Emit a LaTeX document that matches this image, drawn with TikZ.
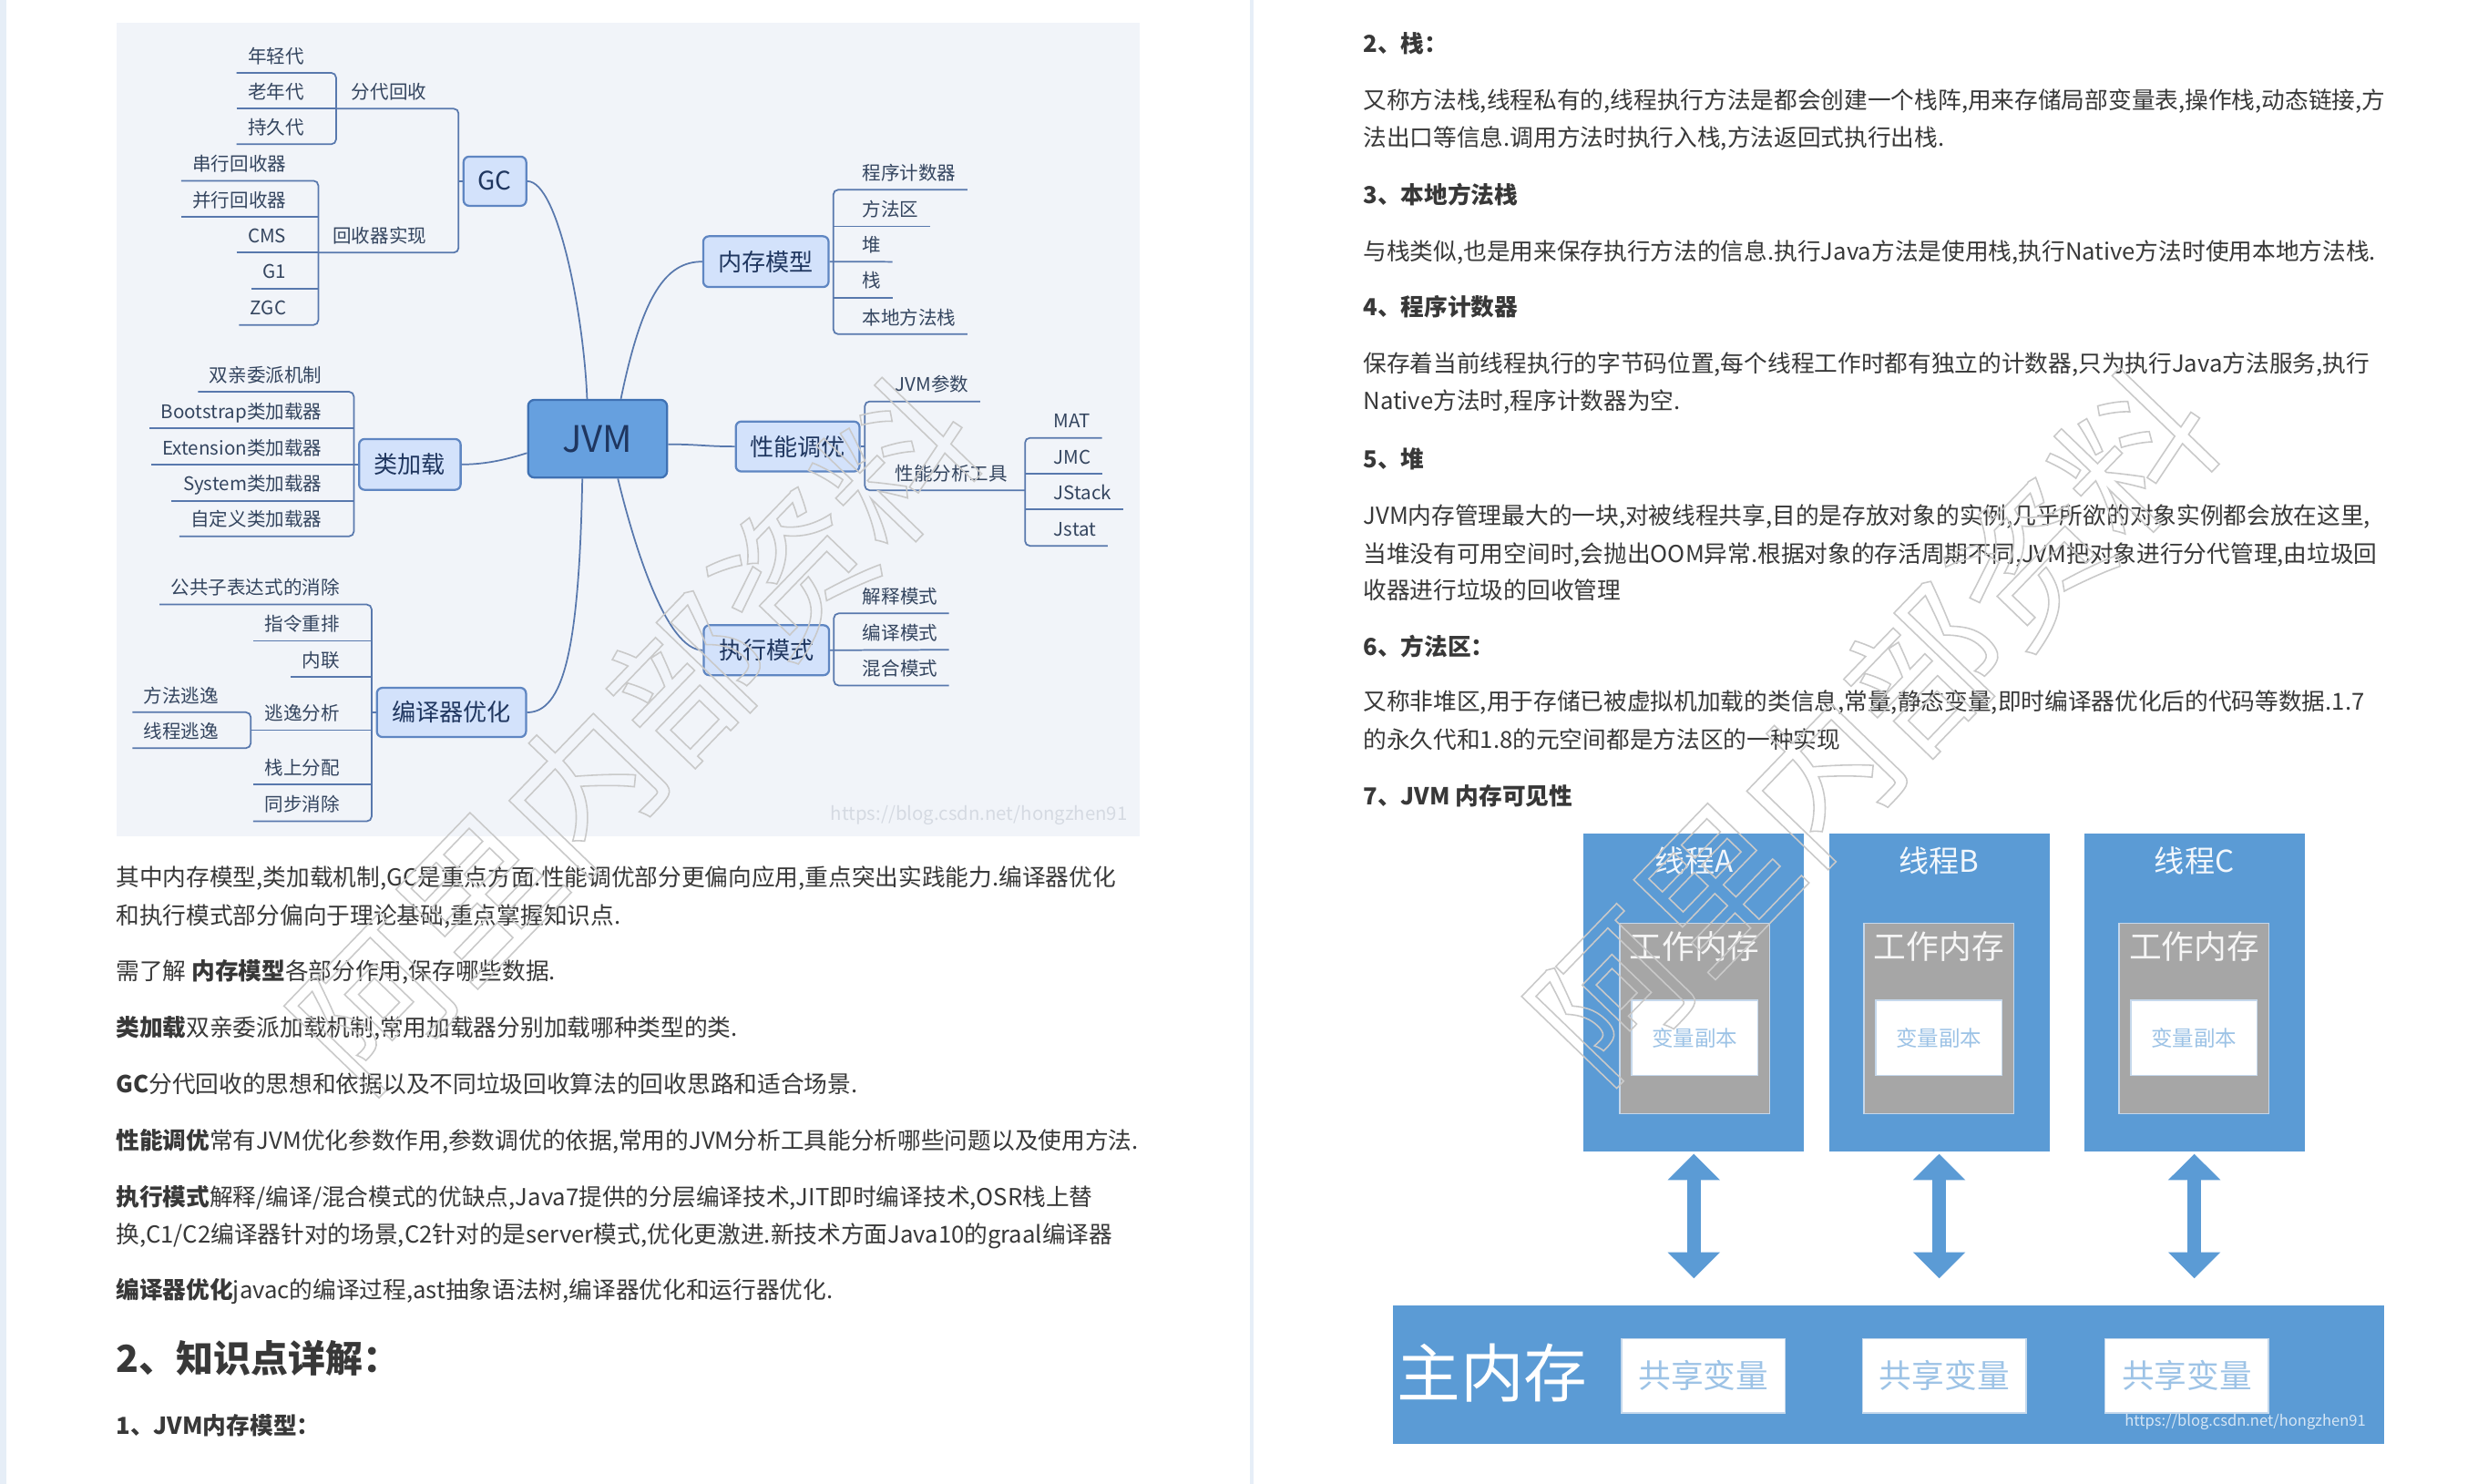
\documentclass[tikz,border=0pt]{standalone}
\usepackage{fontspec}
\setmainfont{Noto Sans CJK SC}
\IfFontExistsTF{FandolSong-Regular.otf}{\newfontfamily\songf{FandolSong-Regular.otf}}{\newfontfamily\songf{Noto Sans CJK SC}}
\IfFontExistsTF{FandolKai-Regular.otf}{\newfontfamily\kaif{FandolKai-Regular.otf}}{\newfontfamily\kaif{Noto Sans CJK SC}}
\usetikzlibrary{arrows.meta,calc}
\definecolor{mmbg}{HTML}{F1F4F9}
\definecolor{mline}{HTML}{5878AD}
\definecolor{tfill}{HTML}{D3E2FB}
\definecolor{tborder}{HTML}{5F86C2}
\definecolor{ttext}{HTML}{1F365F}
\definecolor{jfill}{HTML}{66A0DF}
\definecolor{jborder}{HTML}{3F71B3}
\definecolor{leafc}{HTML}{34455F}
\definecolor{bodyc}{HTML}{383838}
\definecolor{stripc}{HTML}{E6EEF7}
\definecolor{tblue}{HTML}{5B9BD5}
\definecolor{wgray}{HTML}{A6A6A6}
\definecolor{lblue}{HTML}{9DC3E6}
\definecolor{boxedge}{HTML}{C5D8EC}
\definecolor{wmc}{HTML}{C9C9C9}
\definecolor{urlc}{HTML}{D5DAE2}
\newcommand\fs[1]{\fontsize{#1}{#1}\selectfont}
\newcommand\outl[1]{\special{pdf:literal direct 1 Tr 0.9 w}#1\special{pdf:literal direct 0 Tr}}
\tikzset{
  mm/.style={draw=mline, line width=1pt},
  leaf/.style={font=\fs{11.8}, text=leafc, inner xsep=7pt, inner ysep=0pt, minimum height=21pt, text height=10.4pt, text depth=1.4pt},
  topic/.style={draw=tborder, fill=tfill, line width=1.3pt, rounded corners=3.5pt, text=ttext, font=\fs{15}, inner sep=0pt, text height=13.2pt, text depth=1.8pt},
  jvmbox/.style={draw=jborder, fill=jfill, line width=1.3pt, rounded corners=4pt, text=ttext, font=\fs{23}, inner sep=0pt},
  body/.style={font=\fs{14.75}, text=bodyc, inner sep=0pt, anchor=west, text height=13pt, text depth=1.8pt},
  bhead/.style={body, font=\bfseries\fs{14.75}},
  thread/.style={fill=tblue, inner sep=0pt, minimum width=139pt, minimum height=200pt},
  ttitle/.style={font=\fs{19}, text=white!92!tblue, inner sep=0pt},
  wmem/.style={fill=wgray, draw=boxedge, line width=0.8pt, inner sep=0pt, minimum width=94.5pt, minimum height=119.7pt},
  wmtitle/.style={font=\songf\fs{20.5}, text=white!90!wgray, inner sep=0pt},
  copybox/.style={fill=white, draw=boxedge, line width=0.8pt, inner sep=0pt, minimum width=79.6pt, minimum height=47.4pt, font=\songf\fs{13.5}, text=lblue},
  sharebox/.style={fill=white, draw=boxedge, line width=0.8pt, inner sep=0pt, minimum width=103pt, minimum height=46.9pt, font=\songf\fs{20.5}, text=lblue},
  dblarrow/.style={draw=tblue, line width=8.3pt, {Triangle[length=16.5pt,width=32pt]}-{Triangle[length=16.5pt,width=32pt]}},
  wmark/.style={font=\kaif\fs{95}, text=wmc, inner sep=0pt, rotate=46}
}
\begin{document}
\begin{tikzpicture}[x=1pt,y=-1pt]
\fill[white] (0,0) rectangle (1568,935);
\useasboundingbox (0,0) rectangle (1568,935);
\fill[stripc] (0,0) rectangle (4.2,935);
\fill[stripc] (788,0) rectangle (790.2,935);
% mind map background
\fill[mmbg] (73.6,14.4) rectangle (718,527);

% ---------- central and topic nodes
\node[jvmbox, minimum width=87.6pt, minimum height=49pt] (JVM) at (376.6,276.5) {JVM};
\node[topic, minimum width=39.5pt, minimum height=31pt, font=\fs{16}] (GC) at (311.9,114.2) {GC};
\node[topic, minimum width=79pt, minimum height=32pt] (NC) at (482.7,164.9) {内存模型};
\node[topic, minimum width=78pt, minimum height=31.5pt] (XN) at (502.7,281.4) {性能调优};
\node[topic, minimum width=79pt, minimum height=31.5pt] (ZX) at (483,409.8) {执行模式};
\node[topic, minimum width=64pt, minimum height=32pt] (LJ) at (258.3,292.7) {类加载};
\node[topic, minimum width=94pt, minimum height=31pt] (BY) at (284.5,449) {编译器优化};

% ---------- main curves
\draw[mm] (GC.east) .. controls (352,114.2) and (368,200) .. ([xshift=-6.6pt]JVM.north);
\draw[mm] ([xshift=14.7pt]JVM.north) .. controls (405,185) and (420,164.9) .. (NC.west);
\draw[mm] ([yshift=-3.5pt]JVM.east) .. controls (440,280) and (445,281.4) .. (XN.west);
\draw[mm] ([yshift=-9pt]JVM.west) .. controls (318,290) and (305,292.7) .. (LJ.east);
\draw[mm] ([xshift=12.8pt]JVM.south) .. controls (400,345) and (420,409.8) .. (ZX.west);
\draw[mm] ([xshift=-9.6pt]JVM.south) .. controls (365,410) and (355,449) .. (BY.east);

% ---------- GC branch
\node[leaf, anchor=south east] (fd) at (276,68.5) {分代回收};
\node[leaf, anchor=south east] (hs) at (276,159.2) {回收器实现};
\draw[mm, rounded corners=3pt] (211.8,68.5) -- (289,68.5) -- (289,159.2) -- (200.6,159.2);
\draw[mm] (289,114.2) -- (GC.west);
\node[leaf, anchor=south east] (nq) at (198.8,45.9) {年轻代};
\node[leaf, anchor=south east] (ln) at (198.8,68.5) {老年代};
\node[leaf, anchor=south east] (cj) at (198.8,90.9) {持久代};
\draw[mm, rounded corners=3pt] (nq.south west) -- (211.8,45.9) -- (211.8,90.9) -- (cj.south west);
\draw[mm] (ln.south west) -- (211.8,68.5);
\node[leaf, anchor=south east] (cx) at (187.6,113.9) {串行回收器};
\node[leaf, anchor=south east] (bx) at (187.6,136.8) {并行回收器};
\node[leaf, anchor=south east] (cms) at (187.6,159.2) {CMS};
\node[leaf, anchor=south east] (g1) at (187.6,181.8) {G1};
\node[leaf, anchor=south east] (zgc) at (187.6,204.8) {ZGC};
\draw[mm, rounded corners=3pt] (cx.south west) -- (200.6,113.9) -- (200.6,204.8) -- (zgc.south west);
\draw[mm] (bx.south west) -- (200.6,136.8);
\draw[mm] (cms.south west) -- (200.6,159.2);
\draw[mm] (g1.south west) -- (200.6,181.8);

% ---------- class loading branch
\node[leaf, anchor=south east] (sq) at (210,246.9) {双亲委派机制};
\node[leaf, anchor=south east] (bs) at (210,270) {Bootstrap类加载器};
\node[leaf, anchor=south east] (ex) at (210,292.7) {Extension类加载器};
\node[leaf, anchor=south east] (sy) at (210,315.6) {System类加载器};
\node[leaf, anchor=south east] (zd) at (210,338) {自定义类加载器};
\draw[mm, rounded corners=3pt] (sq.south west) -- (223,246.9) -- (223,338) -- (zd.south west);
\draw[mm] (bs.south west) -- (223,270);
\draw[mm] (ex.south west) -- (LJ.west);
\draw[mm] (sy.south west) -- (223,315.6);

% ---------- compiler optimisation branch
\node[leaf, anchor=south east] (gg) at (221.2,381) {公共子表达式的消除};
\node[leaf, anchor=south east] (zl) at (221.2,403.9) {指令重排};
\node[leaf, anchor=south east] (nl) at (221.2,426.5) {内联};
\node[leaf, anchor=south east] (ty) at (221.2,460.1) {逃逸分析};
\node[leaf, anchor=south east] (zs) at (221.2,494.4) {栈上分配};
\node[leaf, anchor=south east] (tb) at (221.2,517.6) {同步消除};
\draw[mm, rounded corners=3pt] (gg.south west) -- (234.2,381) -- (234.2,517.6) -- (tb.south west);
\draw[mm] (zl.south west) -- (234.2,403.9);
\draw[mm] (nl.south west) -- (234.2,426.5);
\draw[mm] (158,460.1) -- (234.2,460.1);
\draw[mm] (zs.south west) -- (234.2,494.4);
\draw[mm] (234.2,449) -- (BY.west);
\node[leaf, anchor=south east] (ff) at (145,448.9) {方法逃逸};
\node[leaf, anchor=south east] (xc) at (145,471.5) {线程逃逸};
\draw[mm, rounded corners=3pt] (ff.south west) -- (158,448.9) -- (158,471.5) -- (xc.south west);

% ---------- memory model branch
\node[leaf, anchor=south west] (pc) at (536.2,119.6) {程序计数器};
\node[leaf, anchor=south west] (ff2) at (536.2,142.6) {方法区};
\node[leaf, anchor=south west] (dui) at (536.2,165) {堆};
\node[leaf, anchor=south west] (zhan) at (536.2,187.6) {栈};
\node[leaf, anchor=south west] (bd) at (536.2,210.6) {本地方法栈};
\draw[mm, rounded corners=3pt] (pc.south east) -- (525.2,119.6) -- (525.2,210.6) -- (bd.south east);
\draw[mm] (525.2,142.6) -- (ff2.south east);
\draw[mm] (NC.east) -- (dui.south east);
\draw[mm] (525.2,187.6) -- (zhan.south east);

% ---------- tuning branch
\node[leaf, anchor=south west] (cs) at (557,253) {JVM参数};
\node[leaf, anchor=south west] (gj) at (557,309) {性能分析工具};
\draw[mm, rounded corners=3pt] (cs.south east) -- (545,253) -- (545,309) -- (646,309);
\draw[mm] (XN.east) -- (545,281.4);
\node[leaf, anchor=south west] (mat) at (657,276) {MAT};
\node[leaf, anchor=south west] (jmc) at (657,298.6) {JMC};
\node[leaf, anchor=south west] (jsk) at (657,321) {JStack};
\node[leaf, anchor=south west] (jst) at (657,344) {Jstat};
\draw[mm, rounded corners=3pt] (mat.south east) -- (646,276) -- (646,344) -- (jst.south east);
\draw[mm] (646,298.6) -- (jmc.south east);
\draw[mm] (646,321) -- (jsk.south east);

% ---------- execution mode branch
\node[leaf, anchor=south west] (js) at (536.5,386.6) {解释模式};
\node[leaf, anchor=south west] (by2) at (536.5,409.5) {编译模式};
\node[leaf, anchor=south west] (hh) at (536.5,432) {混合模式};
\draw[mm, rounded corners=3pt] (js.south east) -- (525.5,386.6) -- (525.5,432) -- (hh.south east);
\draw[mm] (ZX.east) -- (by2.south east);

\node[font=\fs{11.7}, text=urlc, inner sep=0pt] (url1) at (617,514) {https://blog.csdn.net/hongzhen91};

% ---------- left column text
\node[body] (l1) at (73,553) {其中内存模型,类加载机制,GC是重点方面.性能调优部分更偏向应用,重点突出实践能力.编译器优化};
\node[body] (l2) at (73,577) {和执行模式部分偏向于理论基础,重点掌握知识点.};
\node[body] (l3) at (73,612) {需了解 \textbf{内存模型}各部分作用,保存哪些数据.};
\node[body] (l4) at (73,647.5) {\textbf{类加载}双亲委派加载机制,常用加载器分别加载哪种类型的类.};
\node[body] (l5) at (73,683) {\textbf{GC}分代回收的思想和依据以及不同垃圾回收算法的回收思路和适合场景.};
\node[body] (l6) at (73,718.5) {\textbf{性能调优}常有JVM优化参数作用,参数调优的依据,常用的JVM分析工具能分析哪些问题以及使用方法.};
\node[body] (l7) at (73,754) {\textbf{执行模式}解释/编译/混合模式的优缺点,Java7提供的分层编译技术,JIT即时编译技术,OSR栈上替};
\node[body] (l8) at (73,778) {换,C1/C2编译器针对的场景,C2针对的是server模式,优化更激进.新技术方面Java10的graal编译器};
\node[body] (l9) at (73,813) {\textbf{编译器优化}javac的编译过程,ast抽象语法树,编译器优化和运行器优化.};
\node[body, font=\bfseries\fs{23.5}, text height=20.7pt, text depth=2.8pt] (h1) at (73,856) {2、知识点详解：};
\node[bhead] (h2) at (73,898.5) {1、JVM内存模型：};

% ---------- right column text
\node[bhead] (r0) at (859,27.5) {2、栈：};
\node[body] (r1) at (859,63) {又称方法栈,线程私有的,线程执行方法是都会创建一个栈阵,用来存储局部变量表,操作栈,动态链接,方};
\node[body] (r2) at (859,86.5) {法出口等信息.调用方法时执行入栈,方法返回式执行出栈.};
\node[bhead] (r3) at (859,122.5) {3、本地方法栈};
\node[body] (r4) at (859,158.5) {与栈类似,也是用来保存执行方法的信息.执行Java方法是使用栈,执行Native方法时使用本地方法栈.};
\node[bhead] (r5) at (859,193.3) {4、程序计数器};
\node[body] (r6) at (859,229) {保存着当前线程执行的字节码位置,每个线程工作时都有独立的计数器,只为执行Java方法服务,执行};
\node[body] (r7) at (859,252.6) {Native方法时,程序计数器为空.};
\node[bhead] (r8) at (859,289) {5、堆};
\node[body] (r9) at (859,325) {JVM内存管理最大的一块,对被线程共享,目的是存放对象的实例,几乎所欲的对象实例都会放在这里,};
\node[body] (r10) at (859,349) {当堆没有可用空间时,会抛出OOM异常.根据对象的存活周期不同,JVM把对象进行分代管理,由垃圾回};
\node[body] (r11) at (859,372) {收器进行垃圾的回收管理};
\node[bhead] (r12) at (859,407.5) {6、方法区：};
\node[body] (r13) at (859,442) {又称非堆区,用于存储已被虚拟机加载的类信息,常量,静态变量,即时编译器优化后的代码等数据.1.7};
\node[body] (r14) at (859,466) {的永久代和1.8的元空间都是方法区的一种实现};
\node[bhead] (r15) at (859,501.5) {7、JVM 内存可见性};

% ---------- JVM memory visibility diagram
\node[thread] (thA) at (1067.5,625.6) {};
\node[thread] (thB) at (1222.1,625.6) {};
\node[thread] (thC) at (1382.9,625.6) {};
\node[ttitle] (tA) at (1067.5,542.3) {线程A};
\node[ttitle] (tB) at (1222.1,542.3) {线程B};
\node[ttitle] (tC) at (1382.9,542.3) {线程C};
\node[wmem] (wA) at (1068,641.9) {};
\node[wmem] (wB) at (1222,641.9) {};
\node[wmem] (wC) at (1382.8,641.9) {};
\node[wmtitle] (wtA) at (1068,596.7) {工作内存};
\node[wmtitle] (wtB) at (1222,596.7) {工作内存};
\node[wmtitle] (wtC) at (1382.8,596.7) {工作内存};
\node[copybox] (cA) at (1068,654) {变量副本};
\node[copybox] (cB) at (1222,654) {变量副本};
\node[copybox] (cC) at (1382.8,654) {变量副本};
\node[fill=tblue, inner sep=0pt, minimum width=624.7pt, minimum height=87.1pt] (main) at (1190.05,866.45) {};
\node[font=\songf\fs{40}, text=white, inner sep=0pt] (zn) at (940.5,865) {主内存};
\node[sharebox] (s1) at (1073.5,867) {共享变量};
\node[sharebox] (s2) at (1225.4,867) {共享变量};
\node[sharebox] (s3) at (1378.2,867) {共享变量};
\draw[dblarrow] ($(thA.south)+(0,1.4)$) -- ($(thA.south |- main.north)+(0,-17)$);
\draw[dblarrow] ($(thB.south)+(0,1.4)$) -- ($(thB.south |- main.north)+(0,-17)$);
\draw[dblarrow] ($(thC.south)+(0,1.4)$) -- ($(thC.south |- main.north)+(0,-17)$);
\node[font=\fs{9.5}, text=white!75!tblue, inner sep=0pt] (url2) at (1415,896) {https://blog.csdn.net/hongzhen91};

% ---------- watermarks
\node[wmark] (wm1) at (400,462) {\outl{阿里内部资料}};
\node[wmark] (wm2) at (1180,456) {\outl{阿里内部资料}};
\end{tikzpicture}
\end{document}
